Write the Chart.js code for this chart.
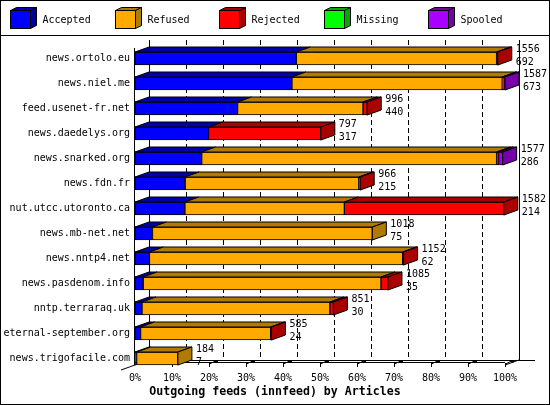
<!DOCTYPE html>
<html>
<head>
<meta charset="utf-8">
<title>Outgoing feeds (innfeed) by Articles</title>
<script src="https://cdn.jsdelivr.net/npm/chart.js@4.4.1/dist/chart.umd.min.js"></script>
<style>
    html, body { margin: 0; padding: 0; background: #fff; }
    #wrap { width: 550px; height: 405px; }
</style>
</head>
<body>
<div id="wrap"><canvas id="feedsChart" width="550" height="405"></canvas></div>
<script>
// ===== Data =====
const hosts = [
    'news.ortolo.eu', 'news.niel.me', 'feed.usenet-fr.net', 'news.daedelys.org',
    'news.snarked.org', 'news.fdn.fr', 'nut.utcc.utoronto.ca', 'news.mb-net.net',
    'news.nntp4.net', 'news.pasdenom.info', 'nntp.terraraq.uk',
    'eternal-september.org', 'news.trigofacile.com'
];
const offered  = [1556, 1587, 996, 797, 1577, 966, 1582, 1018, 1152, 1085, 851, 585, 184];
const accepted = [692, 673, 440, 317, 286, 215, 214, 75, 62, 35, 30, 24, 7];
const refused  = [859, 902, 538, 0, 1265, 745, 684, 943, 1086, 1020, 806, 558, 177];
const rejected = [5, 2, 18, 480, 10, 6, 684, 0, 4, 30, 15, 3, 0];
const missing  = [0, 0, 0, 0, 0, 0, 0, 0, 0, 0, 0, 0, 0];
const spooled  = [0, 10, 0, 0, 16, 0, 0, 0, 0, 0, 0, 0, 0];
const tickPercents = [0, 10, 20, 30, 40, 50, 60, 70, 80, 90, 100];
const xTitle = 'Outgoing feeds (innfeed) by Articles';

// ===== Series / colours =====
const series = [
    { label: 'Accepted', data: accepted, front: '#0000ff', dark: '#0000aa' },
    { label: 'Refused',  data: refused,  front: '#ffaa00', dark: '#b07b00' },
    { label: 'Rejected', data: rejected, front: '#ff0000', dark: '#aa0000' },
    { label: 'Missing',  data: missing,  front: '#00ff00', dark: '#00aa00' },
    { label: 'Spooled',  data: spooled,  front: '#aa00ff', dark: '#7700aa' }
];

const maxTotal = Math.max(...offered);   // 100% = biggest feed
const DX = 14, DY = 5;                     // 3D depth
const BAR = 13;
const FONT = '10px "DejaVu Sans Mono", monospace';

// ===== Helpers =====
function face(ctx, pts, fill) {
    ctx.beginPath();
    ctx.moveTo(pts[0][0], pts[0][1]);
    for (let i = 1; i < pts.length; i++) ctx.lineTo(pts[i][0], pts[i][1]);
    ctx.closePath();
    ctx.fillStyle = fill;
    ctx.fill();
    ctx.strokeStyle = '#000';
    ctx.lineWidth = 1;
    ctx.stroke();
}

function line(ctx, x1, y1, x2, y2) {
    ctx.beginPath();
    ctx.moveTo(x1, y1);
    ctx.lineTo(x2, y2);
    ctx.stroke();
}

// ===== Back wall, floor, ticks =====
const wallPlugin = {
    id: 'wall',
    beforeDatasetsDraw(chart) {
        const { ctx, chartArea, scales: { x, y } } = chart;
        const floorFront = y.getPixelForValue(hosts.length - 1) + BAR / 2;
        const floorBack = floorFront - DY;
        const wallTop = chartArea.top - 6;

        ctx.save();
        ctx.strokeStyle = '#000';
        ctx.lineWidth = 1;

        // dashed grid on the back wall
        tickPercents.forEach((p, i) => {
            const xb = Math.round(x.getPixelForValue(p / 100 * maxTotal) + DX) + 0.5;
            const solid = i === 0 || i === tickPercents.length - 1;
            ctx.setLineDash(solid ? [] : [5, 3]);
            line(ctx, xb, wallTop, xb, floorBack);
        });
        ctx.setLineDash([]);

        // floor
        const x0 = x.getPixelForValue(0);
        const x100 = x.getPixelForValue(maxTotal);
        line(ctx, x0 + DX, floorBack + 0.5, x100 + DX + 16, floorBack + 0.5);
        line(ctx, x0, floorBack + 2.5, x100, floorBack + 2.5);
        line(ctx, x0 + DX, floorBack, x0 - DX, floorFront + DY);
        line(ctx, x100 + DX, floorBack, x100, floorFront);

        // front left edge
        line(ctx, Math.round(x0) - 0.5, chartArea.top + 2, Math.round(x0) - 0.5, floorFront);

        // little 3D ticks
        tickPercents.forEach((p, i) => {
            if (i === 0) return;
            const xf = Math.round(x.getPixelForValue(p / 100 * maxTotal)) + 0.5;
            line(ctx, xf, floorBack + 3, xf, floorBack + 7);
            line(ctx, xf, floorBack + 4, xf + 6, floorBack + 1);
            ctx.fillStyle = '#000';
            ctx.fillRect(xf + 5.5, floorBack, 3, 2.5);
        });
        ctx.restore();
    },

    // top and side faces of the bars + value labels
    afterDatasetsDraw(chart) {
        const { ctx, scales: { x } } = chart;
        ctx.save();
        hosts.forEach((h, i) => {
            let last = null;
            series.forEach((s, d) => {
                if (!s.data[i]) return;
                const el = chart.getDatasetMeta(d).data[i];
                const p = el.getProps(['x', 'y', 'base', 'height'], true);
                const left = Math.min(p.base, p.x);
                const right = Math.max(p.base, p.x);
                const top = p.y - p.height / 2;
                face(ctx, [[left, top], [right, top], [right + DX, top - DY], [left + DX, top - DY]], s.dark);
                last = { right, top, h: p.height, color: s.dark, yc: p.y };
            });
            if (last) {
                const r = last.right, t = last.top;
                face(ctx, [[r, t], [r, t + last.h], [r + DX, t + last.h - DY], [r + DX, t - DY]], last.color);
            }
            // offered / accepted
            const endX = x.getPixelForValue(offered[i]) + DX + 4;
            const yc = chart.scales.y.getPixelForValue(i);
            ctx.fillStyle = '#000';
            ctx.font = FONT;
            ctx.textAlign = 'left';
            ctx.textBaseline = 'middle';
            ctx.fillText(String(offered[i]), endX, yc - 9);
            ctx.fillText(String(accepted[i]), endX, yc + 4);
        });
        ctx.restore();
    },

    // legend, frame and title
    afterDraw(chart) {
        const { ctx, width, height } = chart;
        ctx.save();
        series.forEach((s, i) => {
            const bx = Math.round(10 + i * 104.5) + 0.5;
            const by = 10.5;
            face(ctx, [[bx, by], [bx + 20, by], [bx + 26, by - 3], [bx + 6, by - 3]], s.dark);
            face(ctx, [[bx + 20, by], [bx + 20, by + 18], [bx + 26, by + 15], [bx + 26, by - 3]], s.dark);
            ctx.fillStyle = s.front;
            ctx.fillRect(bx, by, 20, 18);
            ctx.strokeStyle = '#000';
            ctx.strokeRect(bx, by, 20, 18);
            ctx.fillStyle = '#000';
            ctx.font = FONT;
            ctx.textAlign = 'left';
            ctx.textBaseline = 'middle';
            ctx.fillText(s.label, bx + 32, 20);
        });

        ctx.strokeStyle = '#000';
        ctx.lineWidth = 1;
        line(ctx, 0, 35.5, width, 35.5);
        ctx.strokeRect(0.5, 0.5, width - 1, height - 1);

        ctx.fillStyle = '#000';
        ctx.font = 'bold 11.6px "DejaVu Sans Mono", monospace';
        ctx.textAlign = 'center';
        ctx.textBaseline = 'middle';
        ctx.fillText(xTitle, width / 2, 391.5);
        ctx.restore();
    }
};

// ===== Chart =====
const ctx = document.getElementById('feedsChart').getContext('2d');
const feedsChart = new Chart(ctx, {
    type: 'bar',
    data: {
        labels: hosts,
        datasets: series.map(s => ({
            label: s.label,
            data: s.data,
            backgroundColor: s.front,
            borderColor: '#000',
            borderWidth: c => (c.raw ? 1 : 0),
            borderSkipped: false,
            barThickness: BAR,
            stack: 'feeds'
        }))
    },
    options: {
        indexAxis: 'y',
        responsive: false,
        animation: false,
        devicePixelRatio: 1,
        layout: { padding: { top: 46, right: 45, bottom: 20, left: 0 } },
        plugins: {
            legend: { display: false },
            tooltip: { enabled: false },
            title: { display: false }
        },
        scales: {
            x: {
                stacked: true,
                min: 0,
                max: maxTotal,
                grid: { display: false, drawTicks: false },
                border: { display: false },
                afterBuildTicks: scale => {
                    scale.ticks = tickPercents.map(p => ({ value: p / 100 * maxTotal }));
                },
                afterFit: scale => { scale.height = 14; },
                ticks: {
                    autoSkip: false,
                    maxRotation: 0,
                    padding: 1,
                    color: '#000',
                    font: { family: '"DejaVu Sans Mono"', size: 10 },
                    callback: (value, index) => tickPercents[index] + '%'
                }
            },
            y: {
                stacked: true,
                grid: { display: false, drawTicks: false },
                border: { display: false },
                afterFit: scale => { scale.width = 135; },
                ticks: {
                    padding: 5,
                    color: '#000',
                    font: { family: '"DejaVu Sans Mono"', size: 10 }
                }
            }
        }
    },
    plugins: [wallPlugin]
});
</script>
</body>
</html>
